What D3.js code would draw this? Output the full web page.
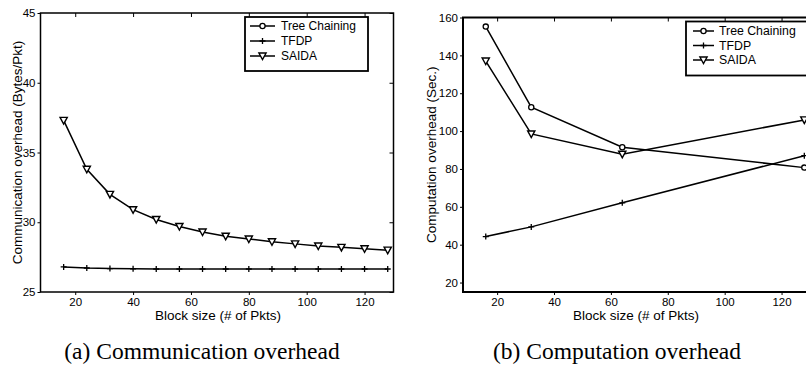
<!DOCTYPE html>
<html>
<head>
<meta charset="utf-8">
<script src="https://cdn.jsdelivr.net/npm/d3@7"></script>
<style>
  html, body { margin: 0; padding: 0; background: #fff; }
  svg { display: block; }
  text { fill: #000; }
</style>
</head>
<body>
<svg id="chart" width="806" height="370"></svg>
<script>
// ---- data ----
const seriesNames = ["Tree Chaining", "TFDP", "SAIDA"];
const xTicks = [20, 40, 60, 80, 100, 120];

// (a) Communication overhead
const blockSizesA = [16, 24, 32, 40, 48, 56, 64, 72, 80, 88, 96, 104, 112, 120, 128];
const tfdpA  = [26.8, 26.72, 26.68, 26.66, 26.65, 26.65, 26.65, 26.65, 26.65, 26.65, 26.65, 26.65, 26.65, 26.65, 26.65];
const saidaA = [37.3, 33.8, 32.0, 30.9, 30.2, 29.7, 29.3, 29.0, 28.8, 28.6, 28.45, 28.3, 28.2, 28.1, 28.0];
const yTicksA = [25, 30, 35, 40, 45];

// (b) Computation overhead
const blockSizesB = [16, 32, 64, 128];
const treeB  = [155.2, 112.6, 91.5, 80.7];
const tfdpB  = [44.3, 49.4, 62.1, 87.0];
const saidaB = [137.0, 98.5, 87.8, 105.9];
const yTicksB = [20, 40, 60, 80, 100, 120, 140, 160];

const svg = d3.select("#chart");
const FONT = "Liberation Sans, Arial, Helvetica, sans-serif";

function marker(g, type, x, y) {
  if (type === "circle") {
    g.append("circle").attr("cx", x).attr("cy", y).attr("r", 2.6)
      .attr("fill", "#fff").attr("stroke", "#000").attr("stroke-width", 1.3);
  } else if (type === "plus") {
    g.append("path").attr("d", `M${x-3},${y}H${x+3}M${x},${y-3}V${y+3}`)
      .attr("stroke", "#000").attr("stroke-width", 1.3).attr("fill", "none");
  } else {
    g.append("path").attr("d", `M${x-3.6},${y-3}L${x+3.6},${y-3}L${x},${y+3.6}Z`)
      .attr("fill", "#fff").attr("stroke", "#000").attr("stroke-width", 1.4);
  }
}
const markerTypes = ["circle", "plus", "triangle"];

function panel(cfg) {
  const g = svg.append("g");
  const x = d3.scaleLinear().domain([8, 130]).range([cfg.left, cfg.right]);
  const y = d3.scaleLinear().domain(cfg.yDomain).range([cfg.bottom, cfg.top]);
  const sw = cfg.axisWidth;

  const bx = d3.axisBottom(x).tickValues(xTicks).tickSize(3).tickSizeOuter(0).tickPadding(3);
  const gb = g.append("g").attr("transform", `translate(0,${cfg.bottom})`).call(bx);
  const ly = d3.axisLeft(y).tickValues(cfg.yTicks).tickSize(3).tickSizeOuter(0).tickPadding(2);
  const gl = g.append("g").attr("transform", `translate(${cfg.left},0)`).call(ly);
  const tx = d3.axisBottom(x).tickValues(xTicks).tickSize(4).tickSizeOuter(0).tickFormat("");
  const gt = g.append("g").attr("transform", `translate(0,${cfg.top})`).call(tx);
  const ry = d3.axisLeft(y).tickValues(cfg.yTicks).tickSize(4).tickSizeOuter(0).tickFormat("");
  const gr = g.append("g").attr("transform", `translate(${cfg.right},0)`).call(ry);

  [gb, gl, gt, gr].forEach(a => {
    a.select(".domain").remove();
    a.selectAll(".tick line").attr("stroke", "#000").attr("stroke-width", 1);
    a.selectAll("text").attr("font-family", FONT).attr("font-size", cfg.tickFont).attr("fill", "#000");
  });

  g.append("rect").attr("x", cfg.left).attr("y", cfg.top)
    .attr("width", cfg.right - cfg.left).attr("height", cfg.bottom - cfg.top)
    .attr("fill", "none").attr("stroke", "#000").attr("stroke-width", sw);

  const line = d3.line().x(d => x(d[0])).y(d => y(d[1]));
  cfg.series.forEach(s => {
    if (!s.values) return;
    const pts = s.xs.map((v, i) => [v, s.values[i]]);
    g.append("path").datum(pts).attr("d", line)
      .attr("fill", "none").attr("stroke", "#000").attr("stroke-width", 1.5);
    pts.forEach(p => marker(g, s.marker, x(p[0]), y(p[1])));
  });

  const L = cfg.legend;
  g.append("rect").attr("x", L.x).attr("y", L.y).attr("width", L.w).attr("height", L.h)
    .attr("fill", "#fff").attr("stroke", "#000").attr("stroke-width", 1.8);
  seriesNames.forEach((name, i) => {
    const yy = L.y + L.first + i * L.step;
    g.append("line").attr("x1", L.x + L.lx1).attr("x2", L.x + L.lx2)
      .attr("y1", yy).attr("y2", yy).attr("stroke", "#000").attr("stroke-width", 1.5);
    marker(g, markerTypes[i], L.x + (L.lx1 + L.lx2) / 2, yy);
    g.append("text").attr("x", L.x + L.tx).attr("y", yy).attr("dy", "0.36em")
      .attr("font-family", FONT).attr("font-size", L.font).text(name);
  });

  g.append("text").attr("x", cfg.xLabelX).attr("y", 320)
    .attr("text-anchor", "middle").attr("font-family", FONT).attr("font-size", 13.5)
    .text("Block size (# of Pkts)");
  g.append("text")
    .attr("transform", `translate(${cfg.yLabelX},${(cfg.top + cfg.bottom) / 2}) rotate(-90)`)
    .attr("text-anchor", "middle").attr("font-family", FONT).attr("font-size", 13.5)
    .text(cfg.yLabel);

  g.append("text").attr("x", cfg.captionX).attr("y", 359)
    .attr("text-anchor", "middle").attr("font-family", "Liberation Serif, Times New Roman, serif")
    .attr("font-size", 23.5).text(cfg.caption);
}

panel({
  left: 40.5, right: 393.5, top: 13, bottom: 292,
  yDomain: [25, 45], yTicks: yTicksA, axisWidth: 1.5, tickFont: 11.5,
  series: [
    { xs: blockSizesA, values: null, marker: "circle" },
    { xs: blockSizesA, values: tfdpA, marker: "plus" },
    { xs: blockSizesA, values: saidaA, marker: "triangle" }
  ],
  legend: { x: 245, y: 17, w: 123, h: 54, first: 9, step: 15, lx1: 5, lx2: 30, tx: 36, font: 12 },
  xLabelX: 218, yLabelX: 22, yLabel: "Communication overhead (Bytes/Pkt)",
  caption: "(a) Communication overhead", captionX: 202
});

panel({
  left: 463, right: 810, top: 17.5, bottom: 292,
  yDomain: [15, 160], yTicks: yTicksB, axisWidth: 2, tickFont: 11.5,
  series: [
    { xs: blockSizesB, values: treeB, marker: "circle" },
    { xs: blockSizesB, values: tfdpB, marker: "plus" },
    { xs: blockSizesB, values: saidaB, marker: "triangle" }
  ],
  legend: { x: 686, y: 21.5, w: 121, h: 54, first: 9.5, step: 14.5, lx1: 7, lx2: 28, tx: 33, font: 12.3 },
  xLabelX: 636, yLabelX: 436, yLabel: "Computation overhead (Sec.)",
  caption: "(b) Computation overhead", captionX: 617
});
</script>
</body>
</html>
